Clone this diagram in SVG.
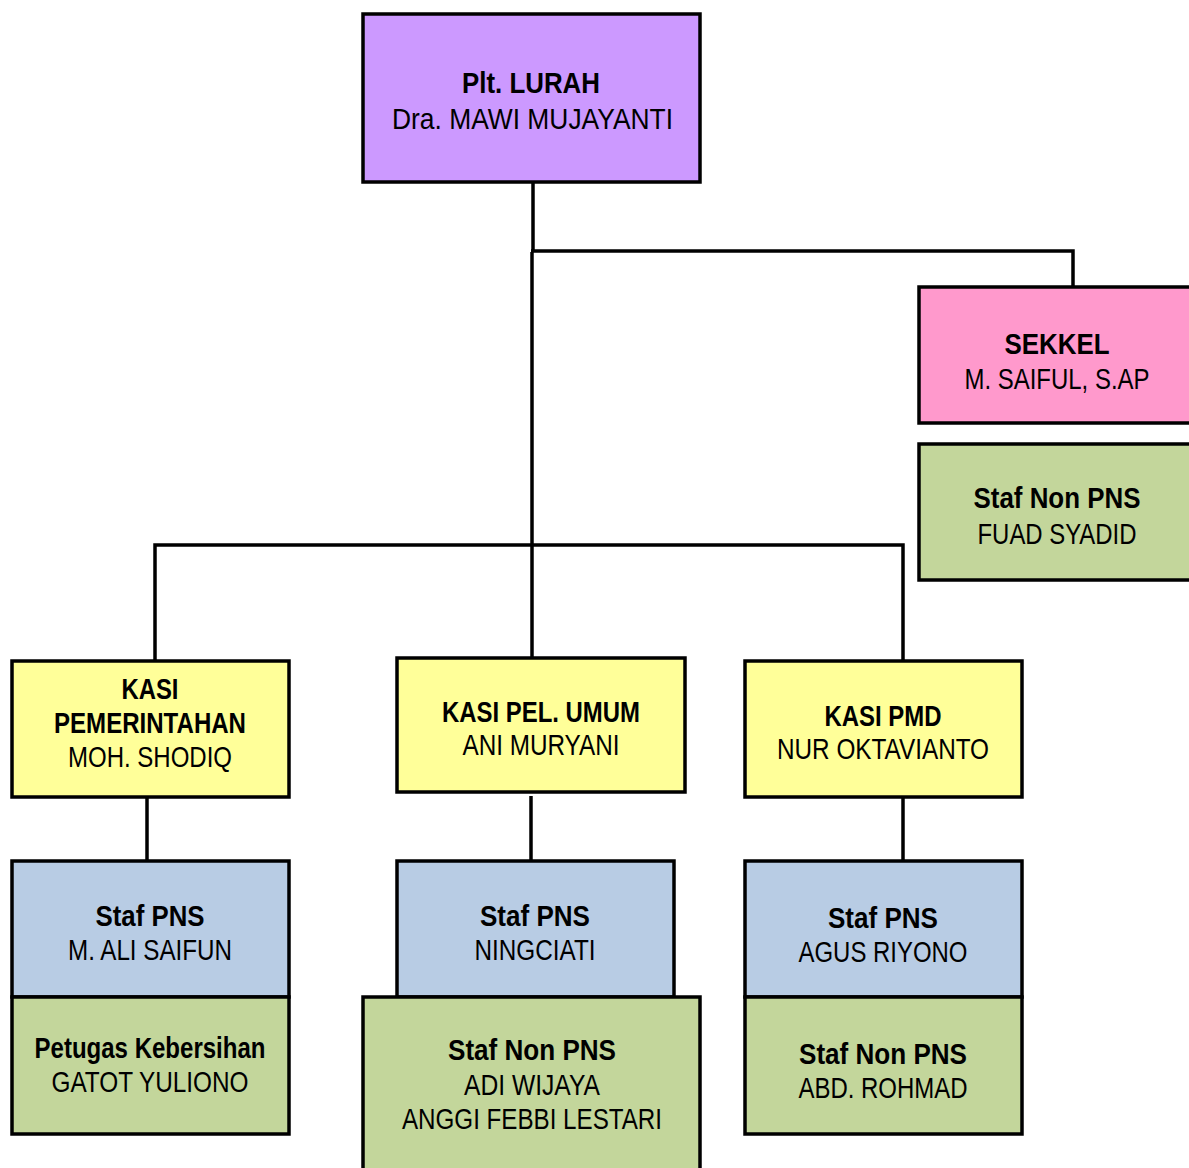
<svg xmlns="http://www.w3.org/2000/svg" width="1189" height="1168" viewBox="0 0 1189 1168">
<style>
  .box { stroke: #000; stroke-width: 3.5; }
  .purple { fill: #CC99FF; }
  .pink { fill: #FF99CC; }
  .green { fill: #C3D69B; }
  .yellow { fill: #FFFF99; }
  .blue { fill: #B8CCE4; }
  text { font-family: "Liberation Sans Narrow", "Arial Narrow", "Liberation Sans", Arial, sans-serif; font-size: 30px; text-anchor: middle; fill: #000; }
  .b { font-weight: bold; }
  .conn { stroke: #000; stroke-width: 3.5; fill: none; }
</style>
<rect width="1189" height="1168" fill="#fff"/>
<g id="connectors">
  <line class="conn" x1="533" y1="182" x2="533" y2="252"/>
  <line class="conn" x1="532" y1="252" x2="532" y2="658"/>
  <polyline class="conn" points="531,251 1073,251 1073,288"/>
  <polyline class="conn" points="155,660 155,545 903,545 903,660"/>
  <line class="conn" x1="147" y1="797" x2="147" y2="861"/>
  <line class="conn" x1="531" y1="796" x2="531" y2="861"/>
  <line class="conn" x1="903" y1="797" x2="903" y2="861"/>
</g>
<g id="lurah">
  <rect class="box purple" x="363" y="14" width="337" height="168"/>
  <text class="b" x="531" y="93" textLength="138" lengthAdjust="spacingAndGlyphs">Plt. LURAH</text>
  <text x="532.5" y="129" textLength="281" lengthAdjust="spacingAndGlyphs">Dra. MAWI MUJAYANTI</text>
</g>
<g id="sekkel">
  <rect class="box pink" x="919" y="287" width="290" height="136"/>
  <text class="b" x="1057" y="354" textLength="105" lengthAdjust="spacingAndGlyphs">SEKKEL</text>
  <text x="1057" y="389" textLength="185" lengthAdjust="spacingAndGlyphs">M. SAIFUL, S.AP</text>
</g>
<g id="staf-non-pns-sekkel">
  <rect class="box green" x="919" y="444" width="290" height="136"/>
  <text class="b" x="1057" y="508" textLength="167" lengthAdjust="spacingAndGlyphs">Staf Non PNS</text>
  <text x="1057" y="544" textLength="159" lengthAdjust="spacingAndGlyphs">FUAD SYADID</text>
</g>
<g id="kasi-pemerintahan">
  <rect class="box yellow" x="12" y="661" width="277" height="136"/>
  <text class="b" x="150" y="699" textLength="57" lengthAdjust="spacingAndGlyphs">KASI</text>
  <text class="b" x="150" y="733" textLength="192" lengthAdjust="spacingAndGlyphs">PEMERINTAHAN</text>
  <text x="150" y="767" textLength="164" lengthAdjust="spacingAndGlyphs">MOH. SHODIQ</text>
</g>
<g id="kasi-pel-umum">
  <rect class="box yellow" x="397" y="658" width="288" height="134"/>
  <text class="b" x="541" y="722" textLength="198" lengthAdjust="spacingAndGlyphs">KASI PEL. UMUM</text>
  <text x="541" y="755" textLength="157" lengthAdjust="spacingAndGlyphs">ANI MURYANI</text>
</g>
<g id="kasi-pmd">
  <rect class="box yellow" x="745" y="661" width="277" height="136"/>
  <text class="b" x="883" y="726" textLength="117" lengthAdjust="spacingAndGlyphs">KASI PMD</text>
  <text x="883" y="759" textLength="212" lengthAdjust="spacingAndGlyphs">NUR OKTAVIANTO</text>
</g>
<g id="staf-pns-1">
  <rect class="box blue" x="12" y="861" width="277" height="136"/>
  <text class="b" x="150" y="926" textLength="109" lengthAdjust="spacingAndGlyphs">Staf PNS</text>
  <text x="150" y="960" textLength="164" lengthAdjust="spacingAndGlyphs">M. ALI SAIFUN</text>
</g>
<g id="petugas-kebersihan">
  <rect class="box green" x="12" y="997" width="277" height="137"/>
  <text class="b" x="150" y="1058" textLength="231" lengthAdjust="spacingAndGlyphs">Petugas Kebersihan</text>
  <text x="150" y="1092" textLength="197" lengthAdjust="spacingAndGlyphs">GATOT YULIONO</text>
</g>
<g id="staf-pns-2">
  <rect class="box blue" x="397" y="861" width="277" height="136"/>
  <text class="b" x="535" y="926" textLength="110" lengthAdjust="spacingAndGlyphs">Staf PNS</text>
  <text x="535" y="960" textLength="121" lengthAdjust="spacingAndGlyphs">NINGCIATI</text>
</g>
<g id="staf-non-pns-2">
  <rect class="box green" x="363" y="997" width="337" height="200"/>
  <text class="b" x="532" y="1060" textLength="168" lengthAdjust="spacingAndGlyphs">Staf Non PNS</text>
  <text x="532" y="1095" textLength="136" lengthAdjust="spacingAndGlyphs">ADI WIJAYA</text>
  <text x="532" y="1129" textLength="260" lengthAdjust="spacingAndGlyphs">ANGGI FEBBI LESTARI</text>
</g>
<g id="staf-pns-3">
  <rect class="box blue" x="745" y="861" width="277" height="136"/>
  <text class="b" x="883" y="928" textLength="110" lengthAdjust="spacingAndGlyphs">Staf PNS</text>
  <text x="883" y="962" textLength="169" lengthAdjust="spacingAndGlyphs">AGUS RIYONO</text>
</g>
<g id="staf-non-pns-3">
  <rect class="box green" x="745" y="997" width="277" height="137"/>
  <text class="b" x="883" y="1064" textLength="168" lengthAdjust="spacingAndGlyphs">Staf Non PNS</text>
  <text x="883" y="1098" textLength="169" lengthAdjust="spacingAndGlyphs">ABD. ROHMAD</text>
</g>
</svg>
